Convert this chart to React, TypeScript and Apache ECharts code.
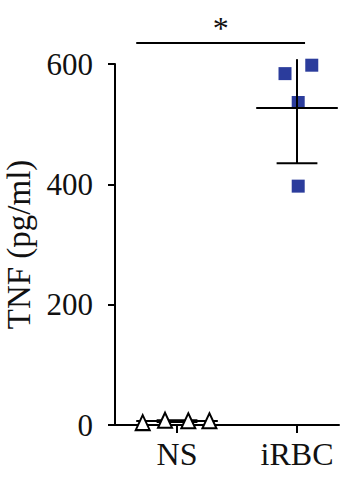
import React, { useEffect, useRef } from "react";
import * as echarts from "echarts";

const categories = ["NS", "iRBC"];
const nsValues = [4, 8, 7, 7];
const nsJitter = [-0.286, -0.1, 0.094, 0.27];
const irbcValues = [584, 598, 536, 397];
const irbcJitter = [-0.1, 0.123, 0.01, 0.01];
const means = [6.5, 527];
const errLow = [5, 435];
const errHigh = [8, 608];
const yTicks = [0, 200, 400, 600];
const significance = { from: -0.34, to: 1.067, y: 635, label: "*" };

const FONT = "'Liberation Serif', 'DejaVu Serif', serif";

export default function App() {
  const ref = useRef<HTMLDivElement>(null);
  useEffect(() => {
    if (!ref.current) return;
    const chart = echarts.init(ref.current, null, { renderer: "svg" });
    const yMax = yTicks[yTicks.length - 1];
    const errData = categories.map((_, i) => [i, means[i], errLow[i], errHigh[i]]);
    chart.setOption({
      animation: false,
      grid: { left: 115, right: 21, top: 64, bottom: 53, containLabel: false, outerBoundsMode: "none" },
      xAxis: {
        type: "value",
        min: -0.517,
        max: 1.35,
        splitLine: { show: false },
        axisLine: { onZero: false, lineStyle: { color: "#000", width: 2 } },
        axisTick: { customValues: [0, 1], length: 8, lineStyle: { color: "#000", width: 2 } },
        axisLabel: {
          customValues: [0, 1],
          formatter: (v: number) => categories[Math.round(v)],
          fontFamily: FONT,
          fontSize: 32,
          color: "#111",
          margin: 13,
        },
      },
      yAxis: {
        type: "value",
        min: 0,
        max: yMax,
        interval: 200,
        name: "TNF (pg/ml)",
        nameLocation: "middle",
        nameGap: 79,
        nameTextStyle: { fontFamily: FONT, fontSize: 33, color: "#111" },
        splitLine: { show: false },
        axisLine: { show: true, onZero: false, lineStyle: { color: "#000", width: 2 } },
        axisTick: { show: true, length: 7, lineStyle: { color: "#000", width: 2 } },
        axisLabel: { fontFamily: FONT, fontSize: 31, color: "#111", margin: 22 },
      },
      series: [
        {
          type: "scatter",
          data: irbcValues.map((v, i) => [1 + irbcJitter[i], v]),
          symbol: "rect",
          symbolSize: 13,
          itemStyle: { color: "#2B3C9C", opacity: 1 },
          clip: false,
          z: 2,
        },
        {
          type: "custom",
          clip: false,
          z: 3,
          data: errData,
          renderItem: (params: any, api: any) => {
            const x = api.value(0);
            const m = api.value(1);
            const lo = api.value(2);
            const hi = api.value(3);
            const ml = api.coord([x - 0.34, m]);
            const mr = api.coord([x + 0.34, m]);
            const top = api.coord([x, hi]);
            const bot = api.coord([x, lo]);
            const cl = api.coord([x - 0.17, lo]);
            const cr = api.coord([x + 0.17, lo]);
            const style = { stroke: "#000", lineWidth: 2 };
            const children: any[] = [
              { type: "line", shape: { x1: ml[0], y1: ml[1], x2: mr[0], y2: mr[1] }, style },
              { type: "line", shape: { x1: top[0], y1: top[1], x2: bot[0], y2: bot[1] }, style },
              { type: "line", shape: { x1: cl[0], y1: cl[1], x2: cr[0], y2: cr[1] }, style },
            ];
            if (hi <= yMax) {
              const tl = api.coord([x - 0.17, hi]);
              const tr = api.coord([x + 0.17, hi]);
              children.push({ type: "line", shape: { x1: tl[0], y1: tl[1], x2: tr[0], y2: tr[1] }, style });
            }
            return { type: "group", children };
          },
        },
        {
          type: "scatter",
          data: nsValues.map((v, i) => [0 + nsJitter[i], v]),
          symbol: "triangle",
          symbolSize: [14, 15],
          itemStyle: { color: "#fff", borderColor: "#000", borderWidth: 2, opacity: 1 },
          clip: false,
          z: 4,
        },
        {
          type: "custom",
          clip: false,
          z: 5,
          data: [[significance.from, significance.to, significance.y]],
          renderItem: (params: any, api: any) => {
            const a = api.coord([api.value(0), api.value(2)]);
            const b = api.coord([api.value(1), api.value(2)]);
            return {
              type: "group",
              children: [
                { type: "line", shape: { x1: a[0], y1: a[1], x2: b[0], y2: b[1] }, style: { stroke: "#000", lineWidth: 2 } },
                {
                  type: "text",
                  x: (a[0] + b[0]) / 2,
                  y: a[1] + 1,
                  style: {
                    text: significance.label,
                    fontFamily: FONT,
                    fontSize: 32,
                    fill: "#111",
                    align: "center",
                    verticalAlign: "bottom",
                  },
                },
              ],
            };
          },
        },
      ],
    });
    return () => chart.dispose();
  }, []);
  return <div ref={ref} style={{ width: 360, height: 478, position: "absolute", left: 0, top: 0 }} />;
}
